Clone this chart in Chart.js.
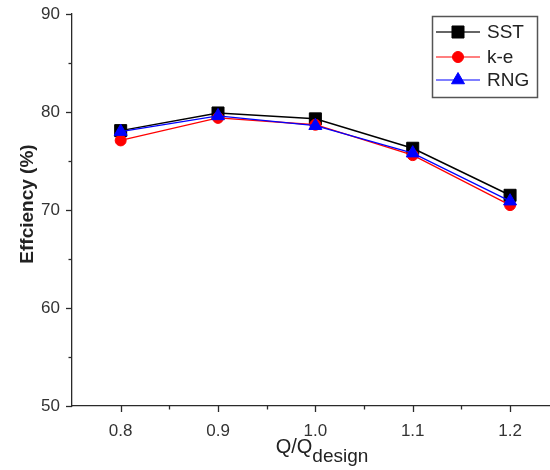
<!DOCTYPE html>
<html>
<head>
<meta charset="utf-8">
<script src="https://cdn.jsdelivr.net/npm/chart.js@4/dist/chart.umd.min.js"></script>
<style>
  html, body { margin: 0; padding: 0; background: #fff; }
  #wrap { width: 550px; height: 470px; }
</style>
</head>
<body>
<div id="wrap"><canvas id="c" width="550" height="470"></canvas></div>
<script>
// Flow ratio Q/Q_design and efficiency (%) from the three turbulence models
const flowRatio = [0.8, 0.9, 1.0, 1.1, 1.2];
const sst = [78.1, 79.9, 79.3, 76.3, 71.5];
const kEpsilon = [77.1, 79.4, 78.7, 75.6, 70.5];
const rng = [78.0, 79.6, 78.6, 75.8, 70.9];

const seriesNames = ['SST', 'k-e', 'RNG'];

// Axis ticks
const xMajorTicks = [0.8, 0.9, 1.0, 1.1, 1.2];
const xMinorTicks = [0.85, 0.95, 1.05, 1.15];
const yMajorTicks = [50, 60, 70, 80, 90];
const yMinorTicks = [55, 65, 75, 85];

const FONT = "'Liberation Sans', Arial, Helvetica, sans-serif";
const TICK_COLOR = '#333';
const AXIS_COLOR = '#2a2a2a';

const toPoints = ys => flowRatio.map((x, i) => ({ x: x, y: ys[i] }));

// Tick marks, axis titles and the framed legend
const decorations = {
  id: 'decorations',
  afterDraw(chart) {
    const ctx = chart.ctx;
    const xs = chart.scales.x;
    const ys = chart.scales.y;
    const area = chart.chartArea;
    ctx.save();

    // tick marks, pointing outwards
    ctx.strokeStyle = AXIS_COLOR;
    ctx.lineWidth = 1.3;
    const xTick = (v, len) => {
      const px = Math.round(xs.getPixelForValue(v)) + 0.5;
      ctx.beginPath();
      ctx.moveTo(px, area.bottom);
      ctx.lineTo(px, area.bottom + len);
      ctx.stroke();
    };
    const yTick = (v, len) => {
      const py = Math.round(ys.getPixelForValue(v)) + 0.5;
      ctx.beginPath();
      ctx.moveTo(area.left, py);
      ctx.lineTo(area.left - len, py);
      ctx.stroke();
    };
    xMajorTicks.forEach(v => xTick(v, 6));
    xMinorTicks.forEach(v => xTick(v, 3.5));
    yMajorTicks.forEach(v => yTick(v, 6));
    yMinorTicks.forEach(v => yTick(v, 3.5));

    // y axis title
    ctx.fillStyle = '#222';
    ctx.font = 'bold 19px ' + FONT;
    ctx.textAlign = 'center';
    ctx.textBaseline = 'middle';
    ctx.save();
    ctx.translate(28, 204);
    ctx.rotate(-Math.PI / 2);
    ctx.fillText('Effciency (%)', 0, 0);
    ctx.restore();

    // x axis title with subscript
    const mainFont = '20px ' + FONT;
    const subFont = '19px ' + FONT;
    ctx.textAlign = 'left';
    ctx.textBaseline = 'alphabetic';
    ctx.font = mainFont;
    const w1 = ctx.measureText('Q/Q').width;
    ctx.font = subFont;
    const w2 = ctx.measureText('design').width;
    const x0 = 322 - (w1 + w2) / 2;
    ctx.font = mainFont;
    ctx.fillText('Q/Q', x0, 453);
    ctx.font = subFont;
    ctx.fillText('design', x0 + w1, 462);

    // legend frame
    const box = { x: 432.5, y: 16.5, w: 105, h: 81 };
    ctx.strokeStyle = '#555';
    ctx.lineWidth = 1.5;
    ctx.strokeRect(box.x, box.y, box.w, box.h);

    const rows = [32, 57, 80];
    ctx.font = '19px ' + FONT;
    ctx.textBaseline = 'middle';
    chart.data.datasets.forEach((ds, i) => {
      const y = rows[i];
      ctx.strokeStyle = ds.legendLineColor;
      ctx.lineWidth = 1.4;
      ctx.beginPath();
      ctx.moveTo(436, y);
      ctx.lineTo(480, y);
      ctx.stroke();
      ctx.fillStyle = ds.backgroundColor;
      ctx.strokeStyle = ds.borderColor;
      ctx.lineWidth = 1;
      Chart.helpers.drawPoint(ctx, {
        pointStyle: ds.pointStyle,
        radius: ds.pointRadius,
        rotation: 0,
        borderWidth: 1
      }, 458, y);
      ctx.fillStyle = '#222';
      ctx.fillText(ds.label, 487, y + 1);
    });

    ctx.restore();
  }
};

new Chart(document.getElementById('c'), {
  type: 'line',
  data: {
    datasets: [
      {
        label: seriesNames[0],
        data: toPoints(sst),
        borderColor: '#000000',
        backgroundColor: '#000000',
        legendLineColor: '#333333',
        pointStyle: 'rect',
        pointRadius: 8.5,
        pointBorderWidth: 1,
        borderWidth: 1.5,
        order: 3
      },
      {
        label: seriesNames[1],
        data: toPoints(kEpsilon),
        borderColor: '#ff0000',
        backgroundColor: '#ff0000',
        legendLineColor: '#ff5555',
        pointStyle: 'circle',
        pointRadius: 5.5,
        pointBorderWidth: 1,
        borderWidth: 1.3,
        order: 2
      },
      {
        label: seriesNames[2],
        data: toPoints(rng),
        borderColor: '#0000ff',
        backgroundColor: '#0000ff',
        legendLineColor: '#5555ff',
        pointStyle: 'triangle',
        pointRadius: 7.5,
        pointBorderWidth: 1,
        borderWidth: 1.3,
        order: 1
      }
    ]
  },
  options: {
    responsive: false,
    animation: false,
    devicePixelRatio: 1,
    layout: { autoPadding: false, padding: { left: 0, right: 1, top: 14, bottom: 0 } },
    plugins: {
      legend: { display: false },
      tooltip: { enabled: false }
    },
    elements: { line: { tension: 0 } },
    scales: {
      x: {
        type: 'linear',
        min: 0.75,
        max: 1.24,
        afterBuildTicks: s => { s.ticks = xMajorTicks.map(v => ({ value: v })); },
        afterFit: s => { s.height = 64; s.paddingLeft = 0; s.paddingRight = 0; },
        grid: { display: false, drawTicks: false, tickLength: 0 },
        border: { display: true, color: AXIS_COLOR, width: 1.3 },
        ticks: {
          autoSkip: false,
          maxRotation: 0,
          padding: 15,
          color: TICK_COLOR,
          font: { family: FONT, size: 17 },
          callback: v => Number(v).toFixed(1)
        }
      },
      y: {
        type: 'linear',
        min: 50,
        max: 90,
        afterBuildTicks: s => { s.ticks = yMajorTicks.map(v => ({ value: v })); },
        afterFit: s => { s.width = 72; s.paddingTop = 0; s.paddingBottom = 0; },
        grid: { display: false, drawTicks: false, tickLength: 0 },
        border: { display: true, color: AXIS_COLOR, width: 1.3 },
        ticks: {
          padding: 12,
          color: TICK_COLOR,
          font: { family: FONT, size: 17 }
        }
      }
    }
  },
  plugins: [decorations]
});
</script>
</body>
</html>
